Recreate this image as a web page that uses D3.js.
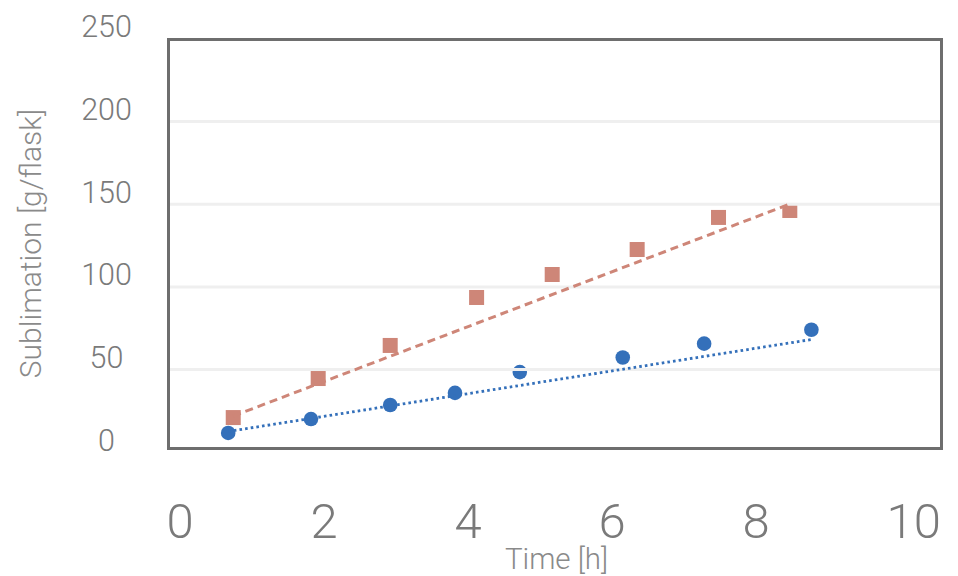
<!DOCTYPE html>
<html>
<head>
<meta charset="utf-8">
<script src="https://cdn.jsdelivr.net/npm/d3@7"></script>
<style>
  html, body { margin: 0; padding: 0; background: #ffffff; }
  svg { display: block; }
</style>
</head>
<body>
<svg id="chart" width="958" height="576"></svg>
<script>
// ---- data ----
const xTicks = [0, 2, 4, 6, 8, 10];
const yTicks = [0, 50, 100, 150, 200, 250];
const seriesAX = [0.92, 2.10, 3.10, 4.30, 5.35, 6.53, 7.66, 8.65];
const seriesAY = [21.0, 44.6, 64.6, 93.6, 107.5, 122.6, 142.0, 146.2];
const seriesBX = [0.85, 2.00, 3.10, 4.00, 4.90, 6.33, 7.46, 8.95];
const seriesBY = [11.7, 20.1, 28.6, 35.9, 48.5, 57.3, 65.7, 74.1];
const trendA = [[0.92, 21.9], [8.65, 150.1]];
const trendB = [[0.85, 12.6], [8.95, 68.2]];
const xTitle = "Time [h]";
const yTitle = "Sublimation [g/flask]";

// ---- layout ----
const box = { left: 167, right: 943, top: 38, bottom: 450 };
const colA = "#CE8678", colB = "#3470BA";
const textCol = "#7a7a7a";
const FONT = "Roboto, 'Helvetica Neue', Arial, sans-serif";

const svg = d3.select("#chart");
const x = d3.scaleLinear().domain([0, 10]).range([167, 887]);
const y = d3.scaleLinear().domain([0, 250]).range([452.3, 38.8]);

// markers
svg.append("g").selectAll("rect").data(seriesAX.map((v, i) => [v, seriesAY[i]]))
  .join("rect")
  .attr("x", d => x(d[0]) - 7.5).attr("y", d => y(d[1]) - 7.5)
  .attr("width", 15).attr("height", 15).attr("fill", colA);

svg.append("g").selectAll("circle").data(seriesBX.map((v, i) => [v, seriesBY[i]]))
  .join("circle")
  .attr("cx", d => x(d[0])).attr("cy", d => y(d[1]))
  .attr("r", 7.3).attr("fill", colB);

// gridlines (drawn over markers as in reference)
svg.append("g").selectAll("line").data(yTicks.filter(t => t > 0 && t < 250))
  .join("line")
  .attr("x1", box.left).attr("x2", box.right)
  .attr("y1", d => y(d)).attr("y2", d => y(d))
  .attr("stroke", "#efefef").attr("stroke-width", 3);

// trendlines
const line = d3.line().x(d => x(d[0])).y(d => y(d[1]));
svg.append("path").datum(trendA).attr("d", line)
  .attr("fill", "none").attr("stroke", colA).attr("stroke-width", 3)
  .attr("stroke-dasharray", "8,5");
svg.append("path").datum(trendB).attr("d", line)
  .attr("fill", "none").attr("stroke", colB).attr("stroke-width", 2.8)
  .attr("stroke-dasharray", "2.6,3.1");

// frame
svg.append("rect")
  .attr("x", box.left + 1.5).attr("y", box.top + 1.5)
  .attr("width", box.right - box.left - 3).attr("height", box.bottom - box.top - 3)
  .attr("fill", "none").attr("stroke", "#6e6e6e").attr("stroke-width", 3);

// y axis labels
const yAxis = svg.append("g").attr("transform", "translate(106.5,0)")
  .call(d3.axisLeft(y).tickValues(yTicks).tickSize(0).tickFormat(d3.format("d")));
yAxis.select(".domain").remove();
yAxis.selectAll("text")
  .attr("x", 0).attr("dy", null).attr("y", -2)
  .attr("text-anchor", "middle")
  .attr("fill", textCol).style("font-family", FONT).style("font-weight", 300).style("font-size", "30.5px");

// x axis labels
const xAxis = svg.append("g").attr("transform", "translate(-1,538)")
  .call(d3.axisBottom(x).tickValues(xTicks).tickSize(0).tickFormat(d3.format("d")));
xAxis.select(".domain").remove();
xAxis.selectAll("text")
  .attr("y", 0).attr("dy", null)
  .attr("text-anchor", "start")
  .attr("fill", textCol).style("font-family", FONT).style("font-weight", 300).style("font-size", "49px");

// titles
svg.append("text").attr("x", 556.5).attr("y", 569)
  .attr("text-anchor", "middle").attr("fill", "#8a8a8a")
  .style("font-family", FONT).style("font-weight", 300).style("font-size", "29.5px")
  .text(xTitle);
svg.append("text").attr("transform", "translate(41,243.5) rotate(-90)")
  .attr("text-anchor", "middle").attr("fill", "#8a8a8a")
  .style("font-family", FONT).style("font-weight", 300).style("font-size", "30px")
  .text(yTitle);
</script>
</body>
</html>
